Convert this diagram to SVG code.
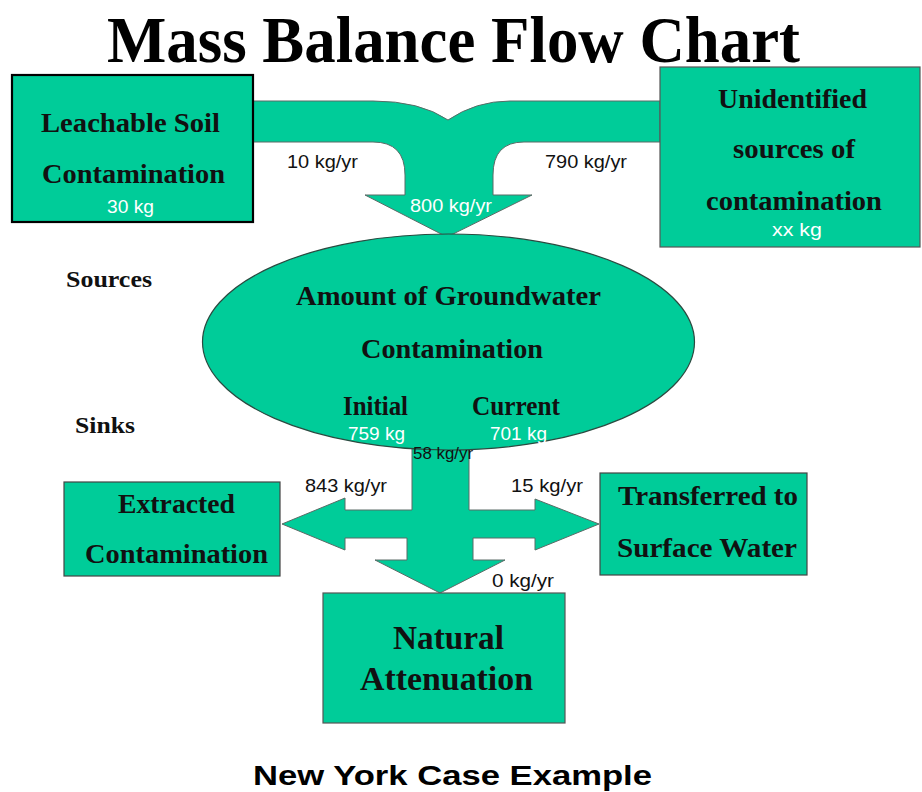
<svg xmlns="http://www.w3.org/2000/svg" width="922" height="792" viewBox="0 0 922 792">
  <style>
    .shape { fill: #00CC99; stroke: #2b4a40; stroke-width: 1.2; }
    .box { fill: #00CC99; stroke: #1a1a1a; stroke-width: 1.6; }
    .flow { fill: #00CC99; stroke: #5a6b66; stroke-width: 1; }
    .lbl { font-family: "Liberation Serif", "Times New Roman", serif; font-weight: bold; font-size: 27px; fill: #111; }
    .side { font-family: "Liberation Serif", "Times New Roman", serif; font-weight: bold; font-size: 24px; fill: #111; }
    .rate { font-family: "Liberation Sans", Arial, sans-serif; font-size: 19px; fill: #111; }
    .mass { font-family: "Liberation Sans", Arial, sans-serif; font-size: 19px; fill: #ffffff; }
    .title { font-family: "Liberation Serif", "Times New Roman", serif; font-weight: bold; font-size: 66px; fill: #000; }
    .caption { font-family: "Liberation Sans", Arial, sans-serif; font-weight: bold; font-size: 27px; fill: #000; }
  </style>

  <rect width="922" height="792" fill="#ffffff"/>

  <!-- Title -->
  <text class="title" x="107" y="62" textLength="693" lengthAdjust="spacingAndGlyphs">Mass Balance Flow Chart</text>

  <!-- Flow connectors -->
  <g id="connectors">
    <!-- Inflows merging into one arrow toward the groundwater pool -->
    <path id="inflow" class="flow" d="M253,101 L373,101 Q420,101 448,120 Q476,101 510,101 L660,101 L660,142 L524,142 Q493,142 493,175 L493,195 L532,195 L447,237 L365,195 L405,195 L405,175 Q405,142 373,142 L253,142 Z"/>
    <!-- Outflows: extraction (left), surface water (right), attenuation (down) -->
    <path id="outflow" class="flow" d="M412,440 L469,440 L469,510 L535,510 L535,499 L599,524 L535,550 L535,538 L473,538 L473,560 L505,560 L440,593 L375,560 L407,560 L407,538 L345,538 L345,550 L282,524 L345,498 L345,510 L412,510 Z"/>
  </g>

  <!-- Source: leachable soil -->
  <g id="leachable-soil">
    <rect class="box" x="12" y="75" width="241" height="147" style="stroke-width:2.2;stroke:#000"/>
    <text class="lbl" x="130.5" y="132" text-anchor="middle" textLength="179" lengthAdjust="spacingAndGlyphs">Leachable Soil</text>
    <text class="lbl" x="133.5" y="183" text-anchor="middle" textLength="183" lengthAdjust="spacingAndGlyphs">Contamination</text>
    <text class="mass" x="130.5" y="213" text-anchor="middle" textLength="47" lengthAdjust="spacingAndGlyphs">30 kg</text>
  </g>

  <!-- Source: unidentified -->
  <g id="unidentified-sources">
    <rect class="box" x="660" y="67" width="260" height="180" style="stroke:#555;stroke-width:1.2"/>
    <text class="lbl" x="792.5" y="108" text-anchor="middle" textLength="149" lengthAdjust="spacingAndGlyphs">Unidentified</text>
    <text class="lbl" x="794" y="158" text-anchor="middle" textLength="122" lengthAdjust="spacingAndGlyphs">sources of</text>
    <text class="lbl" x="794" y="210" text-anchor="middle" textLength="176" lengthAdjust="spacingAndGlyphs">contamination</text>
    <text class="mass" x="797" y="236" text-anchor="middle" textLength="50" lengthAdjust="spacingAndGlyphs">xx kg</text>
  </g>

  <!-- Flow rate labels (inflow) -->
  <g id="inflow-labels">
    <text class="rate" x="287" y="168" textLength="71" lengthAdjust="spacingAndGlyphs">10 kg/yr</text>
    <text class="rate" x="545" y="168" textLength="82" lengthAdjust="spacingAndGlyphs">790 kg/yr</text>
    <text class="mass" x="410" y="212" textLength="82" lengthAdjust="spacingAndGlyphs">800 kg/yr</text>
  </g>

  <!-- Side headings -->
  <text class="side" x="66" y="287" textLength="86" lengthAdjust="spacingAndGlyphs">Sources</text>
  <text class="side" x="75" y="433" textLength="60" lengthAdjust="spacingAndGlyphs">Sinks</text>

  <!-- Groundwater pool -->
  <g id="groundwater">
    <ellipse class="shape" cx="448.5" cy="342" rx="246" ry="108"/>
    <text class="lbl" x="448.5" y="305" text-anchor="middle" textLength="305" lengthAdjust="spacingAndGlyphs">Amount of Groundwater</text>
    <text class="lbl" x="452" y="358" text-anchor="middle" textLength="182" lengthAdjust="spacingAndGlyphs">Contamination</text>
    <text class="lbl" x="343" y="415" textLength="65" lengthAdjust="spacingAndGlyphs">Initial</text>
    <text class="lbl" x="472" y="415" textLength="88" lengthAdjust="spacingAndGlyphs">Current</text>
    <text class="mass" x="348" y="440" textLength="57" lengthAdjust="spacingAndGlyphs">759 kg</text>
    <text class="mass" x="490" y="440" textLength="57" lengthAdjust="spacingAndGlyphs">701 kg</text>
  </g>

  <!-- Flow rate labels (outflow) -->
  <g id="outflow-labels">
    <text class="rate" x="413" y="459" style="font-size:16px" textLength="60" lengthAdjust="spacingAndGlyphs">58 kg/yr</text>
    <text class="rate" x="305" y="492" textLength="82" lengthAdjust="spacingAndGlyphs">843 kg/yr</text>
    <text class="rate" x="511" y="492" textLength="72" lengthAdjust="spacingAndGlyphs">15 kg/yr</text>
    <text class="rate" x="492" y="587" textLength="62" lengthAdjust="spacingAndGlyphs">0 kg/yr</text>
  </g>

  <!-- Sink: extraction -->
  <g id="extracted">
    <rect class="box" x="64" y="482" width="216" height="94" style="stroke:#444;stroke-width:1.2"/>
    <text class="lbl" x="118" y="513" textLength="117" lengthAdjust="spacingAndGlyphs">Extracted</text>
    <text class="lbl" x="85" y="563" textLength="183" lengthAdjust="spacingAndGlyphs">Contamination</text>
  </g>

  <!-- Sink: surface water -->
  <g id="surface-water">
    <rect class="box" x="600" y="473" width="207" height="102" style="stroke:#444;stroke-width:1.2"/>
    <text class="lbl" x="618" y="505" textLength="180" lengthAdjust="spacingAndGlyphs">Transferred to</text>
    <text class="lbl" x="617" y="557" textLength="180" lengthAdjust="spacingAndGlyphs">Surface Water</text>
  </g>

  <!-- Sink: natural attenuation -->
  <g id="natural-attenuation">
    <rect class="box" x="323" y="593" width="242" height="130" style="stroke:#555;stroke-width:1.2"/>
    <text class="lbl" x="393" y="649" style="font-size:33px" textLength="111" lengthAdjust="spacingAndGlyphs">Natural</text>
    <text class="lbl" x="360" y="690" style="font-size:33px" textLength="173" lengthAdjust="spacingAndGlyphs">Attenuation</text>
  </g>

  <!-- Caption -->
  <text class="caption" x="253" y="785" textLength="399" lengthAdjust="spacingAndGlyphs">New York Case Example</text>
</svg>
